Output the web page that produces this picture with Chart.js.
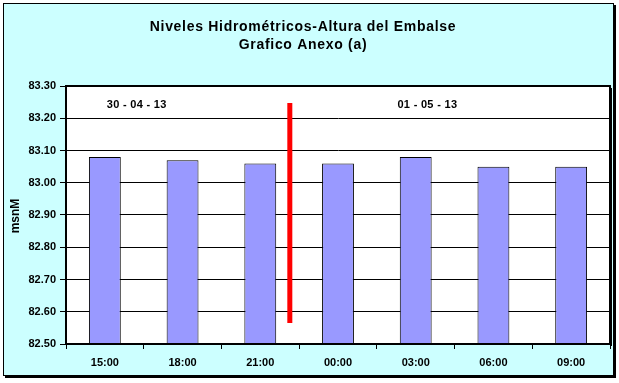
<!DOCTYPE html>
<html><head><meta charset="utf-8">
<script src="https://cdn.jsdelivr.net/npm/chart.js@4"></script>
<style>html,body{margin:0;padding:0;background:#fff}#w{width:619px;height:383px}</style>
</head><body><div id="w"><canvas id="c" width="619" height="383"></canvas></div>
<script>
const titleLines = ['Niveles Hidrométricos-Altura del Embalse', 'Grafico Anexo (a)'];
const yTitle = 'msnM';
const categories = ['15:00','18:00','21:00','00:00','03:00','06:00','09:00'];
const levels = [83.08, 83.07, 83.06, 83.06, 83.08, 83.05, 83.05];
const yMin = 82.5, yMax = 83.3, yStep = 0.1;
const dayMarkerX = [2.38, 2.38];
const dayMarkerY = [83.247, 82.565];
const dayLabels = ['30 - 04 - 13', '01 - 05 - 13'];
const dayLabelX = [0.41, 4.15];
const dayLabelY = [83.24, 83.24];

const font = 'Liberation Sans, Arial, sans-serif';

const framePlugin = {
  id: 'frame',
  beforeDraw(chart) {
    const ctx = chart.ctx, a = chart.chartArea;
    ctx.save();
    ctx.fillStyle = '#fff';
    ctx.fillRect(0, 0, chart.width, chart.height);
    ctx.fillStyle = '#000';
    ctx.fillRect(5, 376, 611, 2);
    ctx.fillRect(614, 5, 2, 373);
    ctx.fillStyle = '#CCFFFF';
    ctx.fillRect(3, 3, 611, 373);
    ctx.strokeStyle = '#000';
    ctx.lineWidth = 1;
    ctx.strokeRect(3.5, 3.5, 610, 372);
    ctx.fillStyle = '#fff';
    ctx.fillRect(a.left, a.top, a.right - a.left, a.bottom - a.top);
    // titles
    ctx.fillStyle = '#000';
    ctx.textAlign = 'center';
    ctx.textBaseline = 'middle';
    ctx.font = 'bold 14px ' + font;
    ctx.letterSpacing = '0.7px';
    ctx.fillText(titleLines[0], 303, 27);
    ctx.fillText(titleLines[1], 303, 45);
    ctx.letterSpacing = '0px';
    ctx.translate(16, 216);
    ctx.rotate(-Math.PI / 2);
    ctx.font = 'bold 12px ' + font;
    ctx.fillText(yTitle, 0, 0);
    ctx.restore();
  },
  afterDraw(chart) {
    const ctx = chart.ctx, a = chart.chartArea;
    const xs = chart.scales.x2, ys = chart.scales.y;
    ctx.save();
    ctx.strokeStyle = '#000';
    ctx.lineWidth = 2;
    ctx.strokeRect(a.left, a.top, a.right - a.left, a.bottom - a.top);
    ctx.fillRect(a.right, a.top + 2, 2, a.bottom - a.top);
    ctx.fillStyle = '#000';
    ctx.textAlign = 'center';
    ctx.textBaseline = 'middle';
    ctx.font = 'bold 11px ' + font;
    ctx.letterSpacing = '0.3px';
    dayLabels.forEach((t, i) => {
      ctx.fillText(t, xs.getPixelForValue(dayLabelX[i]), ys.getPixelForValue(dayLabelY[i]));
    });
    ctx.restore();
  }
};

new Chart(document.getElementById('c'), {
  data: {
    labels: categories,
    datasets: [
      {
        type: 'bar',
        data: levels,
        backgroundColor: '#9999FF',
        borderColor: '#000',
        borderWidth: 1,
        barPercentage: 0.41,
        categoryPercentage: 1,
        grouped: false,
        xAxisID: 'x',
        order: 2
      },
      {
        type: 'line',
        data: dayMarkerX.map((x, i) => ({x: x, y: dayMarkerY[i]})),
        xAxisID: 'x2',
        borderColor: '#FF0000',
        borderWidth: 5,
        borderCapStyle: 'butt',
        pointRadius: 0,
        order: 1
      }
    ]
  },
  options: {
    responsive: false,
    animation: false,
    devicePixelRatio: 1,
    layout: { padding: { left: 0, top: 86, right: 9, bottom: 0 } },
    plugins: { legend: { display: false }, tooltip: { enabled: false }, title: { display: false } },
    scales: {
      x: {
        type: 'category',
        offset: true,
        grid: { drawOnChartArea: false, drawTicks: true, tickLength: 5, color: '#000', offset: true },
        border: { display: true, color: '#000', width: 2 },
        ticks: { color: '#000', font: { family: font, size: 11, weight: 'bold' }, padding: 7, maxRotation: 0 },
        afterFit(s) { s.height = 39; }
      },
      x2: {
        type: 'linear',
        min: -0.5,
        max: 6.5,
        display: false
      },
      y: {
        min: yMin,
        max: yMax,
        grid: { color: '#000', lineWidth: 1, tickLength: 6 },
        border: { display: true, color: '#000', width: 2 },
        ticks: {
          stepSize: yStep,
          color: '#000',
          padding: 4,
          font: { family: font, size: 11, weight: 'bold' },
          callback: v => Number(v).toFixed(2)
        },
        afterFit(s) { s.width = 66; }
      }
    }
  },
  plugins: [framePlugin]
});
</script>
</body></html>
